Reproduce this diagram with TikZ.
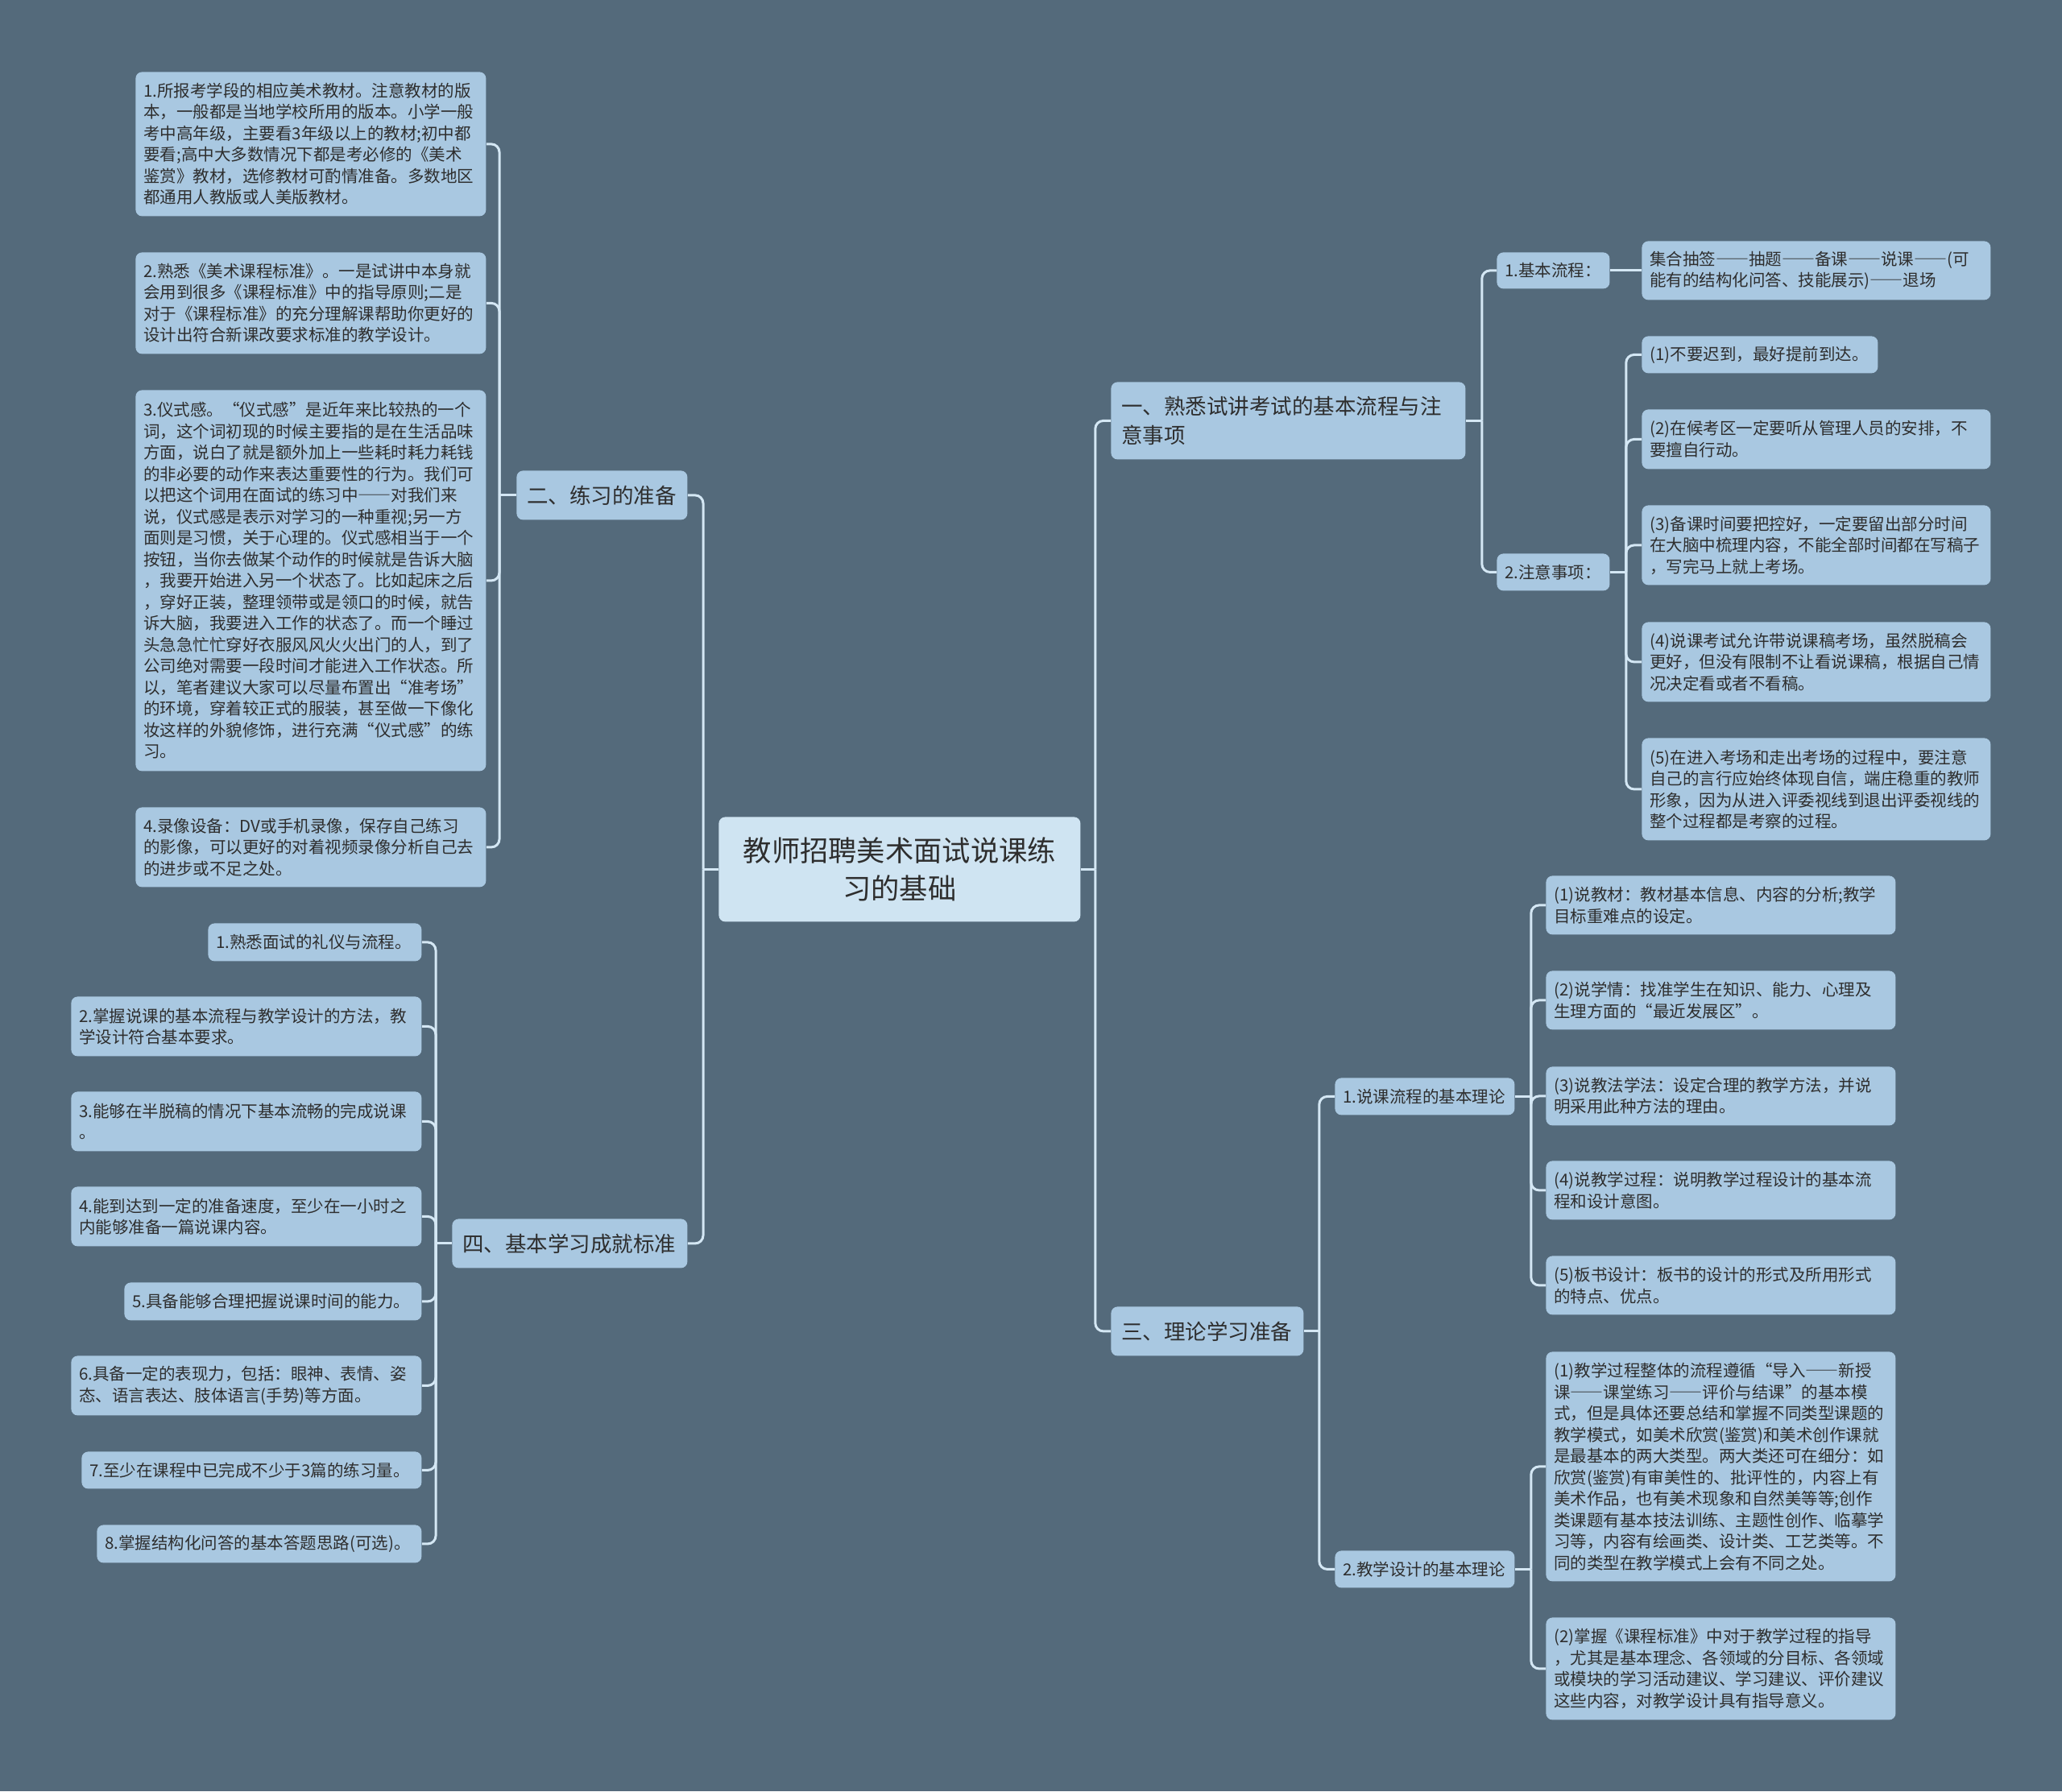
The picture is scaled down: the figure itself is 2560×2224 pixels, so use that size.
\documentclass[tikz,border=0pt]{standalone}
\usepackage{fontspec}
\setmainfont{Noto Sans CJK SC}
\newfontfamily\fwfont[RawFeature=+fwid]{Noto Sans CJK SC}
\newcommand\cjkdash{{\fwfont ——}}
\definecolor{slatebg}{HTML}{546A7B}
\definecolor{boxblue}{HTML}{A9C8E1}
\definecolor{rootblue}{HTML}{CFE4F2}
\definecolor{linkblue}{HTML}{D4E7F4}
\definecolor{inkgray}{HTML}{2E2E2E}
\tikzset{
        treenode/.style={align=left, inner sep=0pt, anchor=north west, rounded corners=4pt, text=inkgray},
        % Central topic
        node_root/.style={treenode, fill=rootblue, align=center, inner xsep=10pt, text width=204.5pt, minimum height=65pt, font=\fontsize{17.65pt}{23.5pt}\selectfont},
        % Main branches
        node_branch/.style={treenode, fill=boxblue, inner xsep=6.5pt, minimum height=30.5pt, font=\fontsize{13.25pt}{18pt}\selectfont},
        % Sub topics and leaves
        node_leaf/.style={treenode, fill=boxblue, inner xsep=5pt, font=\fontsize{10.25pt}{13.25pt}\selectfont},
        % Connectors
        link/.style={draw=linkblue, line width=1.5pt, rounded corners=5pt}
}

\begin{document}
\begin{tikzpicture}[x=0.5pt, y=-0.5pt]
        \fill[slatebg] (0,0) rectangle (2560,2224);
        \useasboundingbox (0,0) rectangle (2560,2224);

        \node[node_root] (root) at (892,1014) {教师招聘美术面试说课练\\习的基础};

        % left: practice
        \node[node_branch, text width=93pt] (prep) at (641,584) {二、练习的准备};
        \node[node_leaf, text width=207.5pt, minimum height=89.5pt] (prep_a) at (168,89) {1.所报考学段的相应美术教材。注意教材的版\\本，一般都是当地学校所用的版本。小学一般\\考中高年级，主要看3年级以上的教材;初中都\\要看;高中大多数情况下都是考必修的《美术\\鉴赏》教材，选修教材可酌情准备。多数地区\\都通用人教版或人美版教材。};
        \node[node_leaf, text width=207.5pt, minimum height=63pt] (prep_b) at (168,313) {2.熟悉《美术课程标准》。一是试讲中本身就\\会用到很多《课程标准》中的指导原则;二是\\对于《课程标准》的充分理解课帮助你更好的\\设计出符合新课改要求标准的教学设计。};
        \node[node_leaf, text width=207.5pt, minimum height=236.5pt] (prep_c) at (168,484) {3.仪式感。“仪式感”是近年来比较热的一个\\词，这个词初现的时候主要指的是在生活品味\\方面，说白了就是额外加上一些耗时耗力耗钱\\的非必要的动作来表达重要性的行为。我们可\\以把这个词用在面试的练习中\cjkdash 对我们来\\说，仪式感是表示对学习的一种重视;另一方\\面则是习惯，关于心理的。仪式感相当于一个\\按钮，当你去做某个动作的时候就是告诉大脑\\，我要开始进入另一个状态了。比如起床之后\\，穿好正装，整理领带或是领口的时候，就告\\诉大脑，我要进入工作的状态了。而一个睡过\\头急急忙忙穿好衣服风风火火出门的人，到了\\公司绝对需要一段时间才能进入工作状态。所\\以，笔者建议大家可以尽量布置出“准考场”\\的环境，穿着较正式的服装，甚至做一下像化\\妆这样的外貌修饰，进行充满“仪式感”的练\\习。};
        \node[node_leaf, text width=207.5pt, minimum height=49.5pt] (prep_d) at (168,1002) {4.录像设备：DV或手机录像，保存自己练习\\的影像，可以更好的对着视频录像分析自己去\\的进步或不足之处。};

        % left: standards
        \node[node_branch, text width=133pt] (goal) at (561,1513) {四、基本学习成就标准};
        \node[node_leaf, text width=122.5pt, minimum height=23.5pt] (goal_a) at (258,1146) {1.熟悉面试的礼仪与流程。};
        \node[node_leaf, text width=207.5pt, minimum height=37pt] (goal_b) at (88,1237) {2.掌握说课的基本流程与教学设计的方法，教\\学设计符合基本要求。};
        \node[node_leaf, text width=207.5pt, minimum height=37pt] (goal_c) at (88,1355) {3.能够在半脱稿的情况下基本流畅的完成说课\\。};
        \node[node_leaf, text width=207.5pt, minimum height=37pt] (goal_d) at (88,1473) {4.能到达到一定的准备速度，至少在一小时之\\内能够准备一篇说课内容。};
        \node[node_leaf, text width=174.5pt, minimum height=23.5pt] (goal_e) at (154,1592) {5.具备能够合理把握说课时间的能力。};
        \node[node_leaf, text width=207.5pt, minimum height=37pt] (goal_f) at (88,1683) {6.具备一定的表现力，包括：眼神、表情、姿\\态、语言表达、肢体语言(手势)等方面。};
        \node[node_leaf, text width=201pt, minimum height=23pt] (goal_g) at (101,1802) {7.至少在课程中已完成不少于3篇的练习量。};
        \node[node_leaf, text width=191.5pt, minimum height=23.5pt] (goal_h) at (120,1893) {8.掌握结构化问答的基本答题思路(可选)。};

        % right: exam flow
        \node[node_branch, text width=207pt, minimum height=48pt] (flow) at (1379,474) {一、熟悉试讲考试的基本流程与注\\意事项};
        \node[node_leaf, text width=60pt, minimum height=22.5pt] (steps) at (1858,313) {1.基本流程：};
        \node[node_leaf, text width=206.5pt, minimum height=36.5pt] (steps_a) at (2038,299) {集合抽签\cjkdash 抽题\cjkdash 备课\cjkdash 说课\cjkdash (可\\能有的结构化问答、技能展示)\cjkdash 退场};
        \node[node_leaf, text width=60pt, minimum height=23pt] (notes) at (1858,687) {2.注意事项：};
        \node[node_leaf, text width=136.5pt, minimum height=23pt] (notes_a) at (2038,417) {(1)不要迟到，最好提前到达。};
        \node[node_leaf, text width=206.5pt, minimum height=37pt] (notes_b) at (2038,508) {(2)在候考区一定要听从管理人员的安排，不\\要擅自行动。};
        \node[node_leaf, text width=206.5pt, minimum height=49.5pt] (notes_c) at (2038,627) {(3)备课时间要把控好，一定要留出部分时间\\在大脑中梳理内容，不能全部时间都在写稿子\\，写完马上就上考场。};
        \node[node_leaf, text width=206.5pt, minimum height=49.5pt] (notes_d) at (2038,772) {(4)说课考试允许带说课稿考场，虽然脱稿会\\更好，但没有限制不让看说课稿，根据自己情\\况决定看或者不看稿。};
        \node[node_leaf, text width=206.5pt, minimum height=63.5pt] (notes_e) at (2038,916) {(5)在进入考场和走出考场的过程中，要注意\\自己的言行应始终体现自信，端庄稳重的教师\\形象，因为从进入评委视线到退出评委视线的\\整个过程都是考察的过程。};

        % right: theory
        \node[node_branch, text width=106.5pt] (theory) at (1379,1622) {三、理论学习准备};
        \node[node_leaf, text width=101.5pt, minimum height=23pt] (talk) at (1657,1338) {1.说课流程的基本理论};
        \node[node_leaf, text width=207pt, minimum height=36.5pt] (talk_a) at (1919,1087) {(1)说教材：教材基本信息、内容的分析;教学\\目标重难点的设定。};
        \node[node_leaf, text width=207pt, minimum height=36.5pt] (talk_b) at (1919,1205) {(2)说学情：找准学生在知识、能力、心理及\\生理方面的“最近发展区”。};
        \node[node_leaf, text width=207pt, minimum height=36.5pt] (talk_c) at (1919,1324) {(3)说教法学法：设定合理的教学方法，并说\\明采用此种方法的理由。};
        \node[node_leaf, text width=207pt, minimum height=36.5pt] (talk_d) at (1919,1441) {(4)说教学过程：说明教学过程设计的基本流\\程和设计意图。};
        \node[node_leaf, text width=207pt, minimum height=36.5pt] (talk_e) at (1919,1559) {(5)板书设计：板书的设计的形式及所用形式\\的特点、优点。};
        \node[node_leaf, text width=101.5pt, minimum height=23pt] (design) at (1657,1925) {2.教学设计的基本理论};
        \node[node_leaf, text width=207pt, minimum height=142.5pt] (design_a) at (1919,1678) {(1)教学过程整体的流程遵循“导入\cjkdash 新授\\课\cjkdash 课堂练习\cjkdash 评价与结课”的基本模\\式，但是具体还要总结和掌握不同类型课题的\\教学模式，如美术欣赏(鉴赏)和美术创作课就\\是最基本的两大类型。两大类还可在细分：如\\欣赏(鉴赏)有审美性的、批评性的，内容上有\\美术作品，也有美术现象和自然美等等;创作\\类课题有基本技法训练、主题性创作、临摹学\\习等，内容有绘画类、设计类、工艺类等。不\\同的类型在教学模式上会有不同之处。};
        \node[node_leaf, text width=207pt, minimum height=63.5pt] (design_b) at (1919,2008) {(2)掌握《课程标准》中对于教学过程的指导\\，尤其是基本理念、各领域的分目标、各领域\\或模块的学习活动建议、学习建议、评价建议\\这些内容，对教学设计具有指导意义。};

        % connectors
        \draw[link] (root.west) -- ++(-19,0) coordinate (root_l);
        \draw[link] (root_l) |- (prep.east);
        \draw[link] (root_l) |- (goal.east);
        \draw[link] (root.east) -- ++(18,0) coordinate (root_r);
        \draw[link] (root_r) |- (flow.west);
        \draw[link] (root_r) |- (theory.west);

        \draw[link] (prep.west) -- ++(-21,0) coordinate (prep_l);
        \draw[link] (prep_l) |- (prep_a.east);
        \draw[link] (prep_l) |- (prep_b.east);
        \draw[link] (prep_l) |- (prep_c.east);
        \draw[link] (prep_l) |- (prep_d.east);

        \draw[link] (goal.west) -- ++(-20,0) coordinate (goal_l);
        \draw[link] (goal_l) |- (goal_a.east);
        \draw[link] (goal_l) |- (goal_b.east);
        \draw[link] (goal_l) |- (goal_c.east);
        \draw[link] (goal_l) |- (goal_d.east);
        \draw[link] (goal_l) |- (goal_e.east);
        \draw[link] (goal_l) |- (goal_f.east);
        \draw[link] (goal_l) |- (goal_g.east);
        \draw[link] (goal_l) |- (goal_h.east);

        \draw[link] (flow.east) -- ++(20,0) coordinate (flow_r);
        \draw[link] (flow_r) |- (steps.west);
        \draw[link] (flow_r) |- (notes.west);
        \draw[link] (steps.east) -- (steps_a.west);
        \draw[link] (notes.east) -- ++(20,0) coordinate (notes_r);
        \draw[link] (notes_r) |- (notes_a.west);
        \draw[link] (notes_r) |- (notes_b.west);
        \draw[link] (notes_r) |- (notes_c.west);
        \draw[link] (notes_r) |- (notes_d.west);
        \draw[link] (notes_r) |- (notes_e.west);

        \draw[link] (theory.east) -- ++(19,0) coordinate (theory_r);
        \draw[link] (theory_r) |- (talk.west);
        \draw[link] (theory_r) |- (design.west);
        \draw[link] (talk.east) -- ++(20,0) coordinate (talk_r);
        \draw[link] (talk_r) |- (talk_a.west);
        \draw[link] (talk_r) |- (talk_b.west);
        \draw[link] (talk_r) |- (talk_c.west);
        \draw[link] (talk_r) |- (talk_d.west);
        \draw[link] (talk_r) |- (talk_e.west);
        \draw[link] (design.east) -- ++(20,0) coordinate (design_r);
        \draw[link] (design_r) |- (design_a.west);
        \draw[link] (design_r) |- (design_b.west);
\end{tikzpicture}
\end{document}
